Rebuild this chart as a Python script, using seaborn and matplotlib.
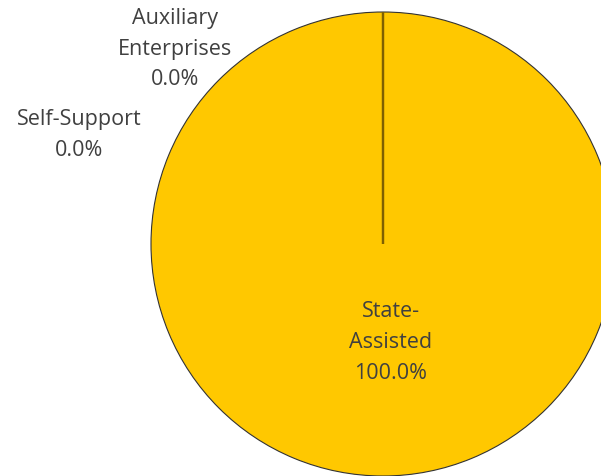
import matplotlib
matplotlib.use("Agg")
import matplotlib.pyplot as plt
import seaborn as sns

# data
categories = ["State-Assisted", "Auxiliary Enterprises", "Self-Support"]
label_text = ["State-\nAssisted", "Auxiliary\nEnterprises", "Self-Support"]
values = [100.0, 0.0, 0.0]
colors = ["#FFC800", "#7F6000", "#A5A5A5"]

sns.set_theme(style="white")
plt.rcParams['font.family'] = ['Open Sans', 'DejaVu Sans']

fig = plt.figure(figsize=(6.01, 4.77), dpi=100)
# pie centre at (383, 245) px, radius ~232 px
ax = fig.add_axes([151 / 601, (232 - 232) / 477, 464 / 601, 464 / 477])

wedges, _ = ax.pie(values, colors=sns.color_palette(colors), startangle=90,
                   counterclock=False, radius=1.0,
                   wedgeprops=dict(edgecolor="#333333", linewidth=0.8))
# zero slices show as a radial line
for w, v in zip(wedges, values):
    if v == 0:
        w.set_edgecolor("#7F6000")
        w.set_linewidth(1.6)
    w.set_zorder(2 if v == 0 else 1)

ax.set_xlim(-1, 1)
ax.set_ylim(-1, 1)
ax.axis("off")

total = sum(values)
# label anchor points (data coords, relative to pie centre)
label_pos = [(0.034, -0.420), (-0.897, 0.844), (-1.310, 0.474)]
for txt, v, (x, y) in zip(label_text, values, label_pos):
    ax.text(x, y, f"{txt}\n{v / total * 100:.1f}%", ha="center", va="center",
            fontsize=15.5, color="#404040", linespacing=1.6)

fig.savefig("out.png", dpi=100, facecolor="white")
